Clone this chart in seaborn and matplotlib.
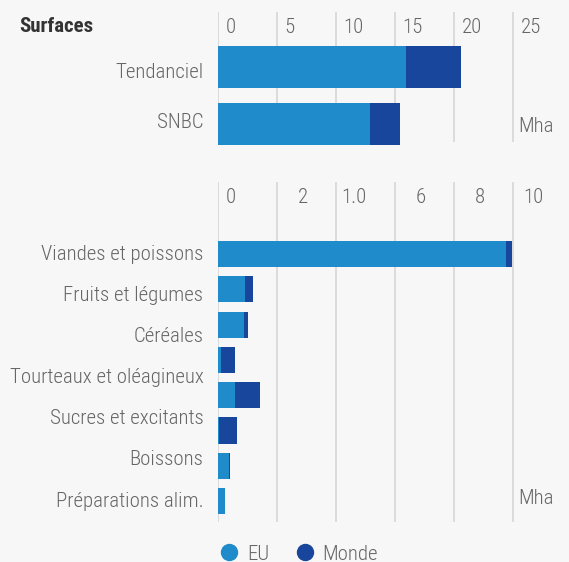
import numpy as np
import pandas as pd
import seaborn as sns
import matplotlib.pyplot as plt
from matplotlib.lines import Line2D

# data (Mha)
scenarios = ["Tendanciel", "SNBC"]
eu_scen = [15.9, 12.9]
monde_scen = [4.7, 2.5]
top_ticks = [0, 5, 10, 15, 20, 25]
top_tick_labels = ["0", "5", "10", "15", "20", "25"]

produits = ["Viandes et poissons", "Fruits et légumes", "Céréales",
            "Tourteaux et oléagineux", "Sucres et excitants", "Boissons",
            "Préparations alim."]
bar_rows = ["r1", "r2", "r3", "r4", "r5", "r6", "r7", "r8"]
eu_prod = [9.75, 0.90, 0.87, 0.10, 0.57, 0.05, 0.37, 0.23]
monde_prod = [0.21, 0.28, 0.13, 0.47, 0.85, 0.58, 0.03, 0.0]
bot_ticks = [0, 2, 4, 6, 8, 10]
bot_tick_labels = ["0", "2", "1.0", "6", "8", "10"]

EU_COL = "#1f8bcb"
MONDE_COL = "#18469c"
BG = "#f7f7f7"
GRID = "#d6d6d6"
TXT = "#666666"
FS = 15

sns.set_style("white")
plt.rcParams["font.family"] = ["Roboto Condensed", "DejaVu Sans"]
plt.rcParams["font.weight"] = 300

fig = plt.figure(figsize=(5.69, 5.62), dpi=100, facecolor=BG)
W, H = 569, 562


def add_ax(top_px, bot_px):
    ax = fig.add_axes([218 / W, 1 - bot_px / H, (W - 218) / W, (bot_px - top_px) / H])
    ax.set_facecolor(BG)
    return ax


def stacked(ax, cats, eu, monde, xmax, ylim):
    df = pd.DataFrame({"cat": cats, "eu": eu,
                       "total": np.array(eu) + np.array(monde)})
    sns.barplot(data=df, y="cat", x="total", color=MONDE_COL, orient="h",
                width=0.74, saturation=1, ax=ax)
    sns.barplot(data=df, y="cat", x="eu", color=EU_COL, orient="h",
                width=0.74, saturation=1, ax=ax)
    for p in ax.patches:
        p.set_edgecolor("none")
        p.set_clip_on(False)
    ax.set_xlim(0, xmax)
    ax.set_ylim(*ylim)
    ax.set_xticks([])
    ax.set_xlabel("")
    ax.set_ylabel("")
    for s in ax.spines.values():
        s.set_visible(False)
    ax.tick_params(axis="y", length=0, pad=10.5, labelsize=FS, labelcolor=TXT)


def tick_texts(ax, ticks, labels, tick_y, mha_y, right_aligned=False):
    for i, (t, lab) in enumerate(zip(ticks, labels)):
        ax.axvline(t, color=GRID, lw=1.2, zorder=0)
        if right_aligned and i > 0:
            dx, ha = 22, "right"
        else:
            dx, ha = 5.5, "left"
        ax.annotate(lab, xy=(t, tick_y), xycoords=("data", "axes fraction"),
                    xytext=(dx, 0), textcoords="offset points",
                    ha=ha, va="center", fontsize=FS, color=TXT)
    ax.annotate("Mha", xy=(ticks[-1], mha_y), xycoords=("data", "axes fraction"),
                xytext=(4, 0), textcoords="offset points",
                ha="left", va="center", fontsize=FS, color=TXT)


ax1 = add_ax(12, 142)
stacked(ax1, scenarios, eu_scen, monde_scen, (W - 218) / 11.8, (1.316, -0.965))
tick_texts(ax1, top_ticks, top_tick_labels, 0.877, 0.12)
ax1.set_yticks([0.07, 0.93], scenarios)

ax2 = add_ax(182, 522)
stacked(ax2, bar_rows, eu_prod, monde_prod, (W - 218) / 29.5, (7.59, -2.04))
tick_texts(ax2, bot_ticks, bot_tick_labels, 0.953, 0.07, right_aligned=True)
ax2.set_yticks(np.linspace(-0.05, 6.94, len(produits)), produits)

fig.text(19 / W, 1 - 26 / H, "Surfaces", fontsize=FS, fontweight="bold",
         color="#333333", ha="left", va="center")

handles = [Line2D([], [], marker="o", ls="", color=EU_COL, markersize=11.5),
           Line2D([], [], marker="o", ls="", color=MONDE_COL, markersize=11.5)]
fig.legend(handles, ["EU", "Monde"], loc="center left",
           bbox_to_anchor=(219 / W, 1 - 554 / H), ncol=2, frameon=False,
           fontsize=FS, labelcolor=TXT, handlelength=1.0, handletextpad=0.35,
           columnspacing=1.2, borderpad=0, borderaxespad=0)

fig.savefig("out.png", dpi=100, facecolor=BG)
